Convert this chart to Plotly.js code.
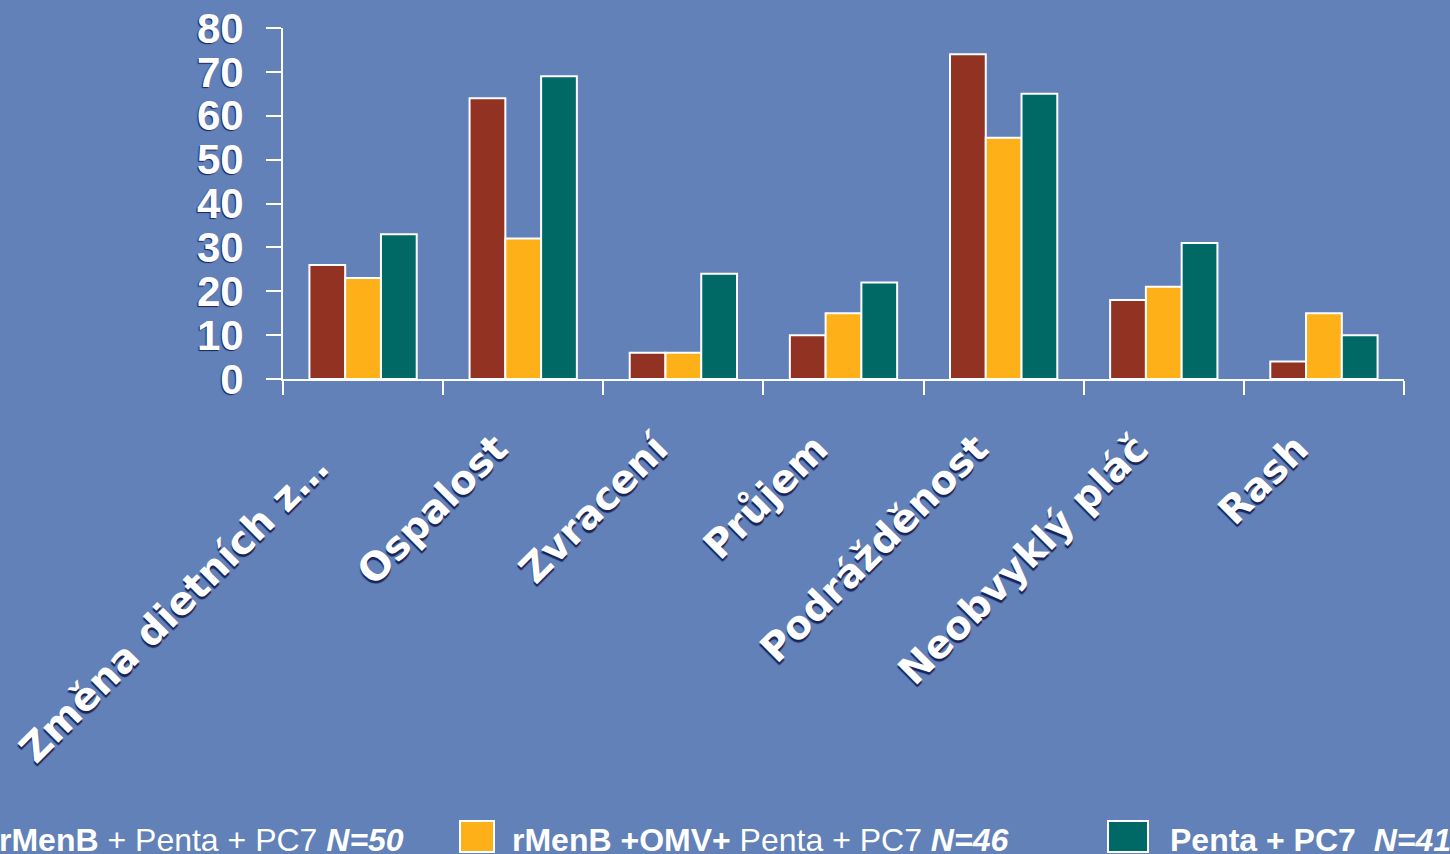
<!DOCTYPE html>
<html>
<head>
<meta charset="utf-8">
<script src="https://cdn.plot.ly/plotly-3.0.1.min.js"></script>
<style>
  html, body { margin: 0; padding: 0; background: #6181b8; }
  #chart { width: 1450px; height: 854px; }
</style>
</head>
<body>
<div id="chart"></div>
<script>
// Adverse events (%) per vaccination group
const categories = ["Změna dietních z…\u00a0\u00a0", "Ospalost", "Zvracení", "Průjem", "Podrážděnost", "Neobvyklý pláč", "Rash"];
const rMenB      = [26, 64, 6, 10, 74, 18, 4];
const rMenBOMV   = [23, 32, 6, 15, 55, 21, 15];
const pentaPC7   = [33, 69, 24, 22, 65, 31, 10];

const seriesNames = [
  "rMenB + Penta + PC7 N=50",
  "rMenB +OMV+ Penta + PC7 N=46",
  "Penta + PC7  N=41"
];
// Legend labels with mixed bold / italic runs
const legendLabels = [
  "<b>rMenB</b> + Penta + PC7 <b><i>N=50</i></b>",
  "<b>rMenB +OMV+</b> Penta + PC7 <b><i>N=46</i></b>",
  "<b>Penta + PC7  <i>N=41</i></b>"
];
const yTicks = [0, 10, 20, 30, 40, 50, 60, 70, 80];

const colors = ["#923222", "#fdb017", "#006966"];
const bg = "#6181b8";

// Plot area geometry in pixels
const L = 283, R = 46, T = 28, B = 475;
const W = 1450 - L - R, H = 854 - T - B;
const px = v => (v - L) / W;
const py = v => (854 - B - v) / H;

const values = [rMenB, rMenBOMV, pentaPC7];
const traces = values.map((vals, i) => ({
  type: "bar",
  name: seriesNames[i],
  x: categories,
  y: vals,
  marker: { color: colors[i], line: { color: "#ffffff", width: 2 } },
  showlegend: false,
  hoverinfo: "x+y"
}));

// Hand-built legend row along the bottom
const legendItems = [
  { sw: [-96, -61], text: 406, anchor: "right" },
  { sw: [460, 494], text: 510, anchor: "left" },
  { sw: [1108, 1148], text: 1168, anchor: "left" }
];
const shapes = legendItems.map((it, i) => ({
  type: "rect", xref: "paper", yref: "paper",
  x0: px(it.sw[0]), x1: px(it.sw[1]), y0: py(852), y1: py(821),
  fillcolor: colors[i], line: { color: "#ffffff", width: 2 }
}));
const annotations = legendItems.map((it, i) => ({
  xref: "paper", yref: "paper",
  x: px(it.text), y: py(840),
  xanchor: it.anchor, yanchor: "middle",
  text: legendLabels[i], showarrow: false,
  font: { family: "Liberation Sans, Arial, sans-serif", size: 32, color: "#ffffff" }
}));

const layout = {
  width: 1450, height: 854,
  margin: { l: L, r: R, t: T, b: B, pad: 0 },
  paper_bgcolor: bg, plot_bgcolor: bg,
  barmode: "group", bargap: 0.33, bargroupgap: 0,
  showlegend: false,
  xaxis: {
    type: "category",
    showline: true, linecolor: "#ffffff", linewidth: 2,
    ticks: "outside", tickson: "boundaries", ticklen: 14, tickwidth: 2, tickcolor: "#ffffff",
    tickangle: -45, ticklabelstandoff: 29, ticklabelshift: -27,
    showgrid: false, zeroline: false,
    tickfont: { family: "DejaVu Sans, Verdana, sans-serif", size: 39, weight: "bold", color: "#ffffff",
                shadow: "-2px 2px 1px #1a2356" }
  },
  yaxis: {
    range: [0, 80], tickvals: yTicks, ticktext: yTicks.map(String),
    showline: true, linecolor: "#ffffff", linewidth: 2,
    ticks: "outside", ticklen: 15, tickwidth: 2, tickcolor: "#ffffff",
    ticklabelstandoff: 14,
    showgrid: false, zeroline: false,
    tickfont: { family: "Liberation Sans, Arial, sans-serif", size: 42, weight: "bold", color: "#ffffff",
                shadow: "-1px 1px 1px #1a2356" }
  },
  shapes, annotations
};

Plotly.newPlot("chart", traces, layout, { displayModeBar: false, staticPlot: true });
</script>
</body>
</html>
